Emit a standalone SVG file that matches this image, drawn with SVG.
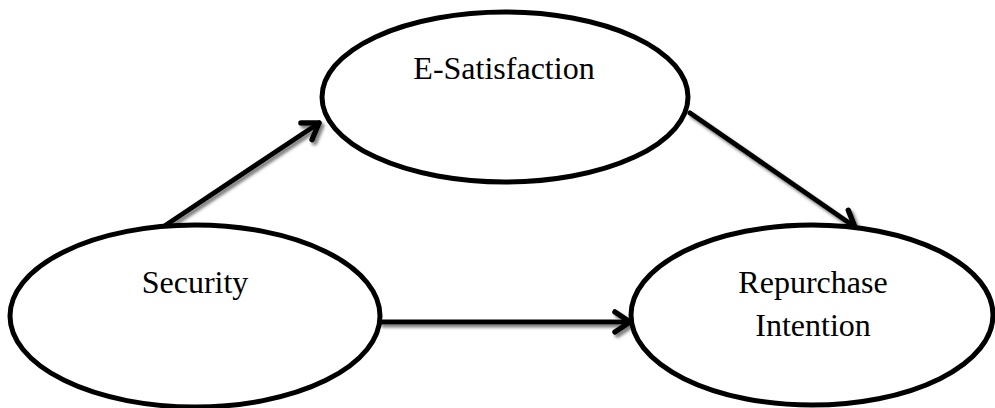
<svg xmlns="http://www.w3.org/2000/svg" width="995" height="408" viewBox="0 0 995 408">
<defs>
<style>
.node ellipse{fill:#fff;stroke:#000;stroke-width:5}
.node text{font-family:"Liberation Serif","Times New Roman",serif;font-size:32px;fill:#000;text-anchor:middle}
.edge{stroke:#000;stroke-width:5;fill:none;stroke-linecap:round;marker-end:url(#arrow)}
</style>
<marker id="arrow" markerUnits="userSpaceOnUse" viewBox="-20 -15 30 30" markerWidth="30" markerHeight="30" refX="0" refY="0" orient="auto" overflow="visible">
<path d="M -15 -10 L 0 0 L -15 10" fill="none" stroke="#000" stroke-width="5.5" stroke-linecap="round" stroke-linejoin="round"/>
</marker>
<filter id="shadow" x="-10%" y="-10%" width="130%" height="130%">
<feDropShadow dx="2.5" dy="3" stdDeviation="1.5" flood-color="#707070" flood-opacity="0.9"/>
</filter>
</defs>
<g id="connectors" filter="url(#shadow)">
<line class="edge" x1="163" y1="227" x2="319" y2="123"/>
<line class="edge" x1="690" y1="113" x2="855" y2="227"/>
<line class="edge" x1="381" y1="322" x2="630" y2="322"/>
</g>
<g id="e-satisfaction" class="node">
<ellipse cx="505" cy="97" rx="183" ry="85"/>
<text x="504" y="79">E-Satisfaction</text>
</g>
<g id="security" class="node">
<ellipse cx="195" cy="316" rx="185" ry="91"/>
<text x="195" y="293">Security</text>
</g>
<g id="repurchase-intention" class="node">
<ellipse cx="812" cy="315" rx="181" ry="90"/>
<text x="813" y="293">Repurchase</text>
<text x="813" y="336">Intention</text>
</g>
</svg>
